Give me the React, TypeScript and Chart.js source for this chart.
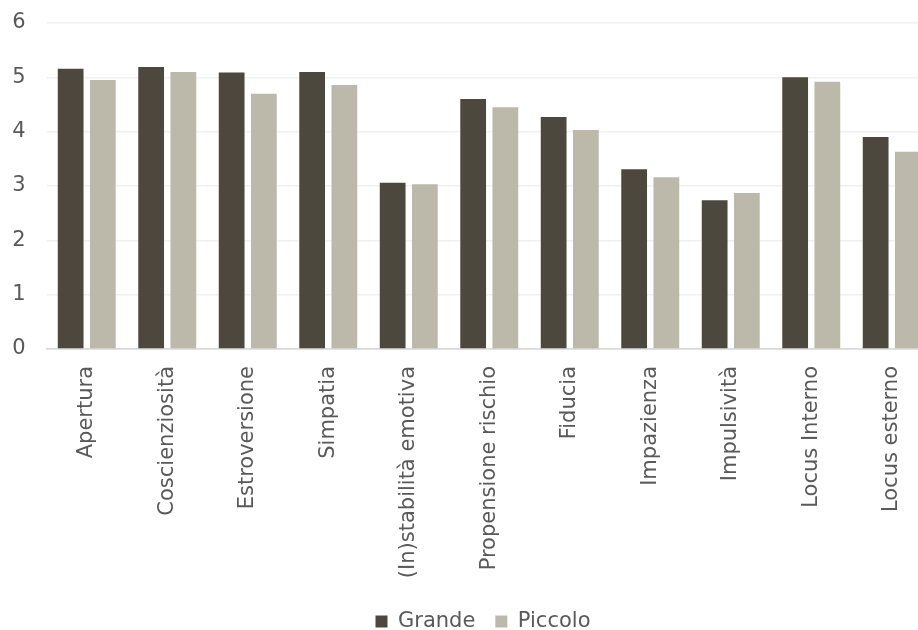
import React, { useEffect, useRef } from "react";
import { Chart, registerables } from "chart.js";

Chart.register(...registerables);

const categories = [
  "Apertura",
  "Coscienziosità",
  "Estroversione",
  "Simpatia",
  "(In)stabilità emotiva",
  "Propensione rischio",
  "Fiducia",
  "Impazienza",
  "Impulsività",
  "Locus Interno",
  "Locus esterno",
];
const grande = [5.16, 5.19, 5.09, 5.1, 3.06, 4.6, 4.27, 3.31, 2.74, 5.0, 3.9];
const piccolo = [4.95, 5.1, 4.7, 4.86, 3.03, 4.45, 4.03, 3.16, 2.87, 4.92, 3.63];
const yTicks = [0, 1, 2, 3, 4, 5, 6];

const FONT = "'DejaVu Sans', Verdana, sans-serif";
const FS = 21;
const TEXT = "#595959";
const W = 966;
const H = 642;

export default function App() {
  const ref = useRef<HTMLCanvasElement | null>(null);

  useEffect(() => {
    document.body.style.margin = "0";
    document.body.style.overflow = "hidden";
    const canvas = ref.current;
    if (!canvas) return;
    const chart = new Chart(canvas, {
      type: "bar",
      data: {
        labels: categories,
        datasets: [
          {
            label: "Grande",
            data: grande,
            backgroundColor: "#4c483d",
            categoryPercentage: 0.8,
            barPercentage: 0.8,
          },
          {
            label: "Piccolo",
            data: piccolo,
            backgroundColor: "#bcb8aa",
            categoryPercentage: 0.8,
            barPercentage: 0.8,
          },
        ],
      },
      options: {
        animation: false,
        responsive: false,
        maintainAspectRatio: false,
        layout: { padding: { top: 23, left: 0, right: 0, bottom: 0 } },
        font: { family: FONT, size: FS },
        color: TEXT,
        plugins: {
          tooltip: { enabled: false },
          legend: {
            position: "bottom",
            labels: {
              boxWidth: 12,
              boxHeight: 12,
              padding: 20,
              color: TEXT,
              font: { family: FONT, size: FS },
            },
          },
        },
        scales: {
          x: {
            grid: { display: false },
            border: { display: true, color: "#d9d9d9", width: 1.5 },
            ticks: {
              autoSkip: false,
              minRotation: 90,
              maxRotation: 90,
              padding: 9,
              color: TEXT,
              font: { family: FONT, size: FS },
            },
            afterFit: (scale: any) => {
              scale.height = 242;
              scale.paddingLeft = 0;
              scale.paddingRight = 34;
            },
          },
          y: {
            min: 0,
            max: 6,
            afterBuildTicks: (scale: any) => {
              scale.ticks = yTicks.map((v) => ({ value: v }));
            },
            grid: {
              drawTicks: false,
              color: (ctx: any) => (ctx.tick && ctx.tick.value === 0 ? "#d9d9d9" : "#f0f0f0"),
              lineWidth: 1.5,
            },
            border: { display: false },
            ticks: {
              padding: 21,
              color: TEXT,
              font: { family: FONT, size: FS },
            },
            afterFit: (scale: any) => {
              scale.width = 46.5;
              scale.paddingTop = 0;
              scale.paddingBottom = 0;
            },
          },
        },
      },
    });
    return () => chart.destroy();
  }, []);

  return (
    <div style={{ width: W, height: H, overflow: "hidden" }}>
      <canvas ref={ref} width={W} height={H} style={{ display: "block", width: W, height: H }} />
    </div>
  );
}
